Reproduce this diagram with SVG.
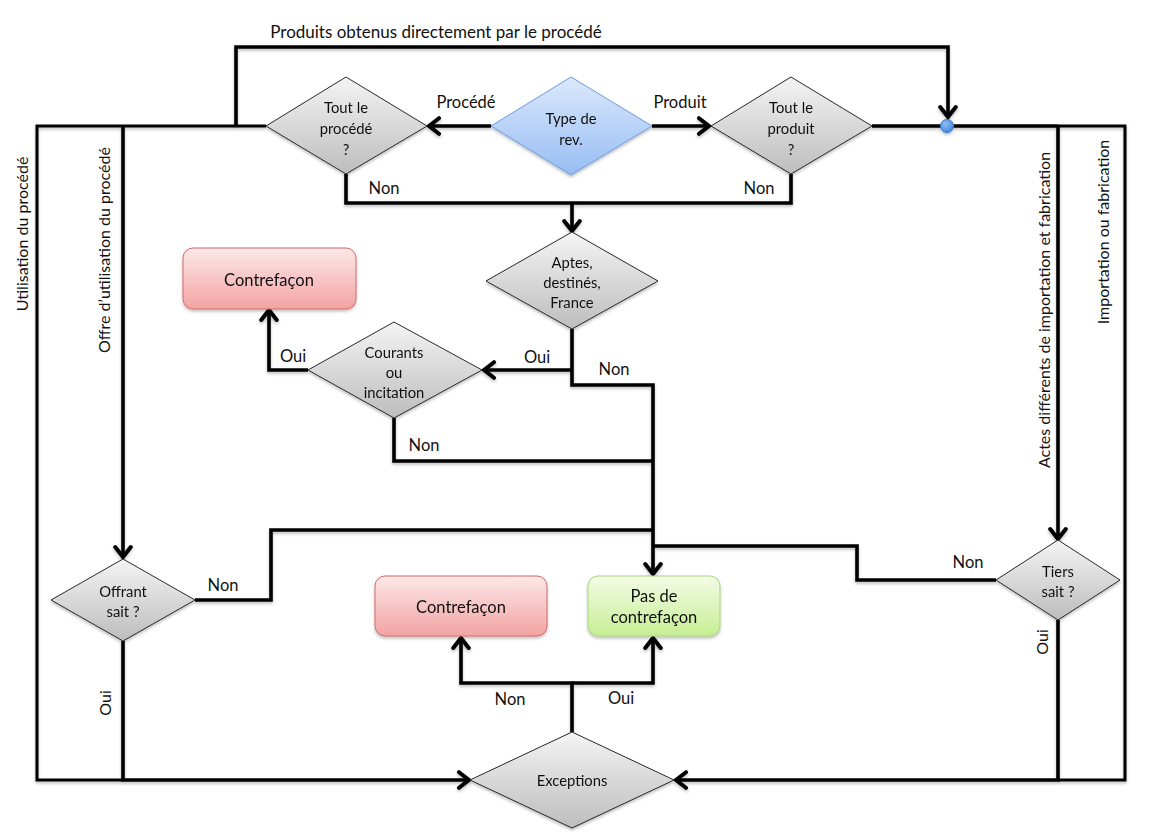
<svg xmlns="http://www.w3.org/2000/svg" width="1153" height="832" viewBox="0 0 1153 832">
<style>
  text { font-family: Lato, "Open Sans", "Liberation Sans", sans-serif; fill: #111; }
  .lbl { font-size: 16.5px; text-anchor: middle; }
  .top { font-size: 17px; text-anchor: middle; }
  .vt { font-size: 16px; text-anchor: middle; }
  .dt { font-size: 14.8px; text-anchor: middle; }
  .bt { font-size: 16.5px; text-anchor: middle; }
  .gray { fill: url(#gGray); stroke: #2a2a2a; stroke-width: 1; }
  .blue { fill: url(#gBlue); stroke: #6b9be0; stroke-width: 1; }
  .red { fill: url(#gRed); stroke: #d46a6a; stroke-width: 1; }
  .green { fill: url(#gGreen); stroke: #a5d67a; stroke-width: 1; }
  .c { fill: none; stroke: #000; stroke-width: 3.6; stroke-linejoin: miter; }
  .thin { stroke-width: 3; }
</style>
<defs>
  <linearGradient id="gGray" x1="0" y1="0" x2="0" y2="1">
    <stop offset="0" stop-color="#f4f4f4"/>
    <stop offset="1" stop-color="#bdbdbd"/>
  </linearGradient>
  <linearGradient id="gBlue" x1="0" y1="0" x2="0" y2="1">
    <stop offset="0" stop-color="#dbe8fc"/>
    <stop offset="1" stop-color="#98bdf3"/>
  </linearGradient>
  <linearGradient id="gRed" x1="0" y1="0" x2="0" y2="1">
    <stop offset="0" stop-color="#fde8e8"/>
    <stop offset="1" stop-color="#f3a3a3"/>
  </linearGradient>
  <linearGradient id="gGreen" x1="0" y1="0" x2="0" y2="1">
    <stop offset="0" stop-color="#f3fce6"/>
    <stop offset="1" stop-color="#c6ee94"/>
  </linearGradient>
  <radialGradient id="gDot" cx="0.4" cy="0.35" r="0.7">
    <stop offset="0" stop-color="#8fbdf5"/>
    <stop offset="1" stop-color="#3f85dc"/>
  </radialGradient>
  <filter id="sh" x="-10%" y="-10%" width="120%" height="130%">
    <feDropShadow dx="0" dy="2" stdDeviation="1.5" flood-color="#000" flood-opacity="0.25"/>
  </filter>
  <marker id="arr" markerUnits="userSpaceOnUse" markerWidth="20" markerHeight="20" viewBox="-12 -9 14 18" refX="0" refY="0" orient="auto">
    <path d="M-9,-7 L0,0 L-9,7" fill="none" stroke="#000" stroke-width="3.6" stroke-linecap="round" stroke-linejoin="miter"/>
  </marker>
</defs>
<rect width="1153" height="832" fill="#fff"/>

<g id="connectors" filter="url(#sh)">
  <path class="c" d="M236,126 V47 H948 V117" marker-end="url(#arr)"/>
  <path class="c thin" d="M266,126 H37 V780 H123"/>
  <path class="c" d="M123,126 V557" marker-end="url(#arr)"/>
  <path class="c" d="M123,641 V780 H469" marker-end="url(#arr)"/>
  <path class="c" d="M491,126 H429" marker-end="url(#arr)"/>
  <path class="c" d="M652,126 H709" marker-end="url(#arr)"/>
  <path class="c" d="M872,126 H1058"/>
  <path class="c thin" d="M1058,126 H1125 V780 H1058"/>
  <path class="c" d="M1058,126 V539" marker-end="url(#arr)"/>
  <path class="c" d="M1058,620 V780 H676" marker-end="url(#arr)"/>
  <path class="c" d="M346,174 V203 H791 V174"/>
  <path class="c" d="M572,203 V231" marker-end="url(#arr)"/>
  <path class="c" d="M572,329 V385 H653 V574" marker-end="url(#arr)"/>
  <path class="c" d="M572,370 H484" marker-end="url(#arr)"/>
  <path class="c" d="M308,370 H269 V310" marker-end="url(#arr)"/>
  <path class="c" d="M394,418 V461 H653"/>
  <path class="c" d="M195,600 H271 V530 H653"/>
  <path class="c" d="M996,580 H857 V546 H653"/>
  <path class="c" d="M572,732 V683 H461 V638" marker-end="url(#arr)"/>
  <path class="c" d="M572,683 H653 V638" marker-end="url(#arr)"/>
  <circle cx="947" cy="126" r="6.5" fill="url(#gDot)" stroke="#3a76c4" stroke-width="1"/>
</g>

<g id="edge-labels">
  <text class="top" x="436" y="38">Produits obtenus directement par le procédé</text>
  <text class="lbl" x="466" y="108">Procédé</text>
  <text class="lbl" x="680" y="108">Produit</text>
  <text class="lbl" x="384" y="194">Non</text>
  <text class="lbl" x="759" y="194">Non</text>
  <text class="lbl" x="293" y="362">Oui</text>
  <text class="lbl" x="537" y="363">Oui</text>
  <text class="lbl" x="614" y="375">Non</text>
  <text class="lbl" x="424" y="451">Non</text>
  <text class="lbl" x="223" y="591">Non</text>
  <text class="lbl" x="968" y="568">Non</text>
  <text class="lbl" x="510" y="705">Non</text>
  <text class="lbl" x="621" y="704">Oui</text>
  <text class="vt" transform="translate(111,703) rotate(-90)">Oui</text>
  <text class="vt" transform="translate(1048,642) rotate(-90)">Oui</text>
  <text class="vt" transform="translate(28,234) rotate(-90)">Utilisation du procédé</text>
  <text class="vt" transform="translate(110,250) rotate(-90)">Offre d’utilisation du procédé</text>
  <text class="vt" transform="translate(1050,310) rotate(-90)">Actes différents de importation et fabrication</text>
  <text class="vt" transform="translate(1109,232) rotate(-90)">Importation ou fabrication</text>
</g>

<g id="type-rev" filter="url(#sh)">
  <polygon class="blue" points="571,77 652,126 571,175 491,126"/>
  <text class="dt" x="571" y="124">Type de</text>
  <text class="dt" x="571" y="145">rev.</text>
</g>

<g id="tout-procede" filter="url(#sh)">
  <polygon class="gray" points="346,77 427,126 346,174 266,126"/>
  <text class="dt" x="346" y="113">Tout le</text>
  <text class="dt" x="346" y="134">procédé</text>
  <text class="dt" x="346" y="155">?</text>
</g>

<g id="tout-produit" filter="url(#sh)">
  <polygon class="gray" points="791,77 872,126 791,174 711,126"/>
  <text class="dt" x="791" y="113">Tout le</text>
  <text class="dt" x="791" y="134">produit</text>
  <text class="dt" x="791" y="155">?</text>
</g>

<g id="aptes" filter="url(#sh)">
  <polygon class="gray" points="572,232 658,281 572,329 486,281"/>
  <text class="dt" x="572" y="268">Aptes,</text>
  <text class="dt" x="572" y="288">destinés,</text>
  <text class="dt" x="572" y="308">France</text>
</g>

<g id="contrefacon-1" filter="url(#sh)">
  <rect class="red" x="183" y="248" width="173" height="61" rx="10"/>
  <text class="bt" x="269" y="286">Contrefaçon</text>
</g>

<g id="courants" filter="url(#sh)">
  <polygon class="gray" points="394,322 482,370 394,418 308,370"/>
  <text class="dt" x="394" y="358">Courants</text>
  <text class="dt" x="394" y="378">ou</text>
  <text class="dt" x="394" y="398">incitation</text>
</g>

<g id="offrant" filter="url(#sh)">
  <polygon class="gray" points="123,559 195,600 123,641 51,600"/>
  <text class="dt" x="123" y="597">Offrant</text>
  <text class="dt" x="123" y="617">sait ?</text>
</g>

<g id="tiers" filter="url(#sh)">
  <polygon class="gray" points="1058,540 1120,580 1058,620 996,580"/>
  <text class="dt" x="1058" y="577">Tiers</text>
  <text class="dt" x="1058" y="597">sait ?</text>
</g>

<g id="contrefacon-2" filter="url(#sh)">
  <rect class="red" x="375" y="576" width="172" height="60" rx="10"/>
  <text class="bt" x="461" y="613">Contrefaçon</text>
</g>

<g id="pas-contrefacon" filter="url(#sh)">
  <rect class="green" x="588" y="576" width="132" height="60" rx="10"/>
  <text class="bt" x="654" y="602">Pas de</text>
  <text class="bt" x="654" y="623">contrefaçon</text>
</g>

<g id="exceptions" filter="url(#sh)">
  <polygon class="gray" points="572,732 674,780 572,828 470,780"/>
  <text class="dt" x="572" y="786">Exceptions</text>
</g>
</svg>
